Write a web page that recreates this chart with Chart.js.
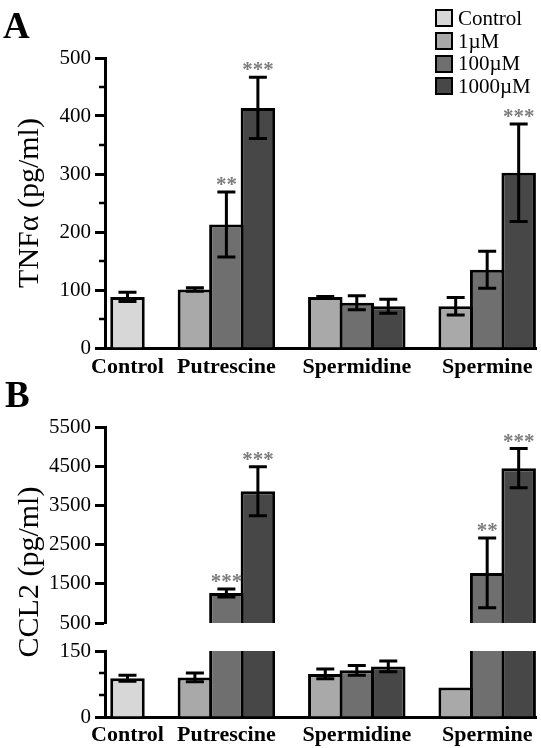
<!DOCTYPE html>
<html><head><meta charset="utf-8">
<script src="https://cdn.jsdelivr.net/npm/chart.js@4.4.0/dist/chart.umd.min.js"></script>
<style>
html,body{margin:0;padding:0;background:#fff;}
#wrap{position:relative;width:541px;height:748px;overflow:hidden;font-family:'Liberation Serif','Times New Roman',serif;color:#000;}
canvas{position:absolute;left:0;}
.letter{position:absolute;font-weight:bold;font-size:37px;line-height:36px;}
.ytitle{position:absolute;font-size:30px;line-height:1;white-space:nowrap;transform:translate(-50%,-50%) rotate(-90deg);}
#legend{position:absolute;left:435px;top:7px;font-size:21px;}
.row{display:flex;align-items:center;height:22.7px;}
.sw{width:18px;height:18px;border:2px solid #000;box-sizing:border-box;margin-right:5px;}
</style></head><body>
<div id="wrap">
<canvas id="cA" width="541" height="380" style="top:0px"></canvas>
<canvas id="cBt" width="541" height="265" style="top:380px"></canvas>
<canvas id="cBb" width="541" height="118" style="top:630px"></canvas>
<div class="letter" style="left:3px;top:8px">A</div>
<div class="letter" style="left:5px;top:377px">B</div>
<div class="ytitle" style="left:28px;top:203px">TNFα (pg/ml)</div>
<div class="ytitle" style="left:28px;top:572px">CCL2 (pg/ml)</div>
<div id="legend"></div>
</div>
<script>
// ---------- data ----------
const groups = ['Control', 'Putrescine', 'Spermidine', 'Spermine'];
const seriesNames = ['Control', '1µM', '100µM', '1000µM'];
const seriesColors = ['#d7d7d7', '#a9a9a9', '#6f6f6f', '#474747'];

// Panel A: TNFα (pg/ml); one entry per group, null = no bar
const tnfControl = [88, null, null, null];
const tnf1uM     = [null, 101, 88, 72];
const tnf100uM   = [null, 213, 78, 135];
const tnf1000uM  = [null, 414, 72, 302];
const tnfErrControl = [8, null, null, null];
const tnfErr1uM     = [null, 3, 1, 15];
const tnfErr100uM   = [null, 56, 12, 32];
const tnfErr1000uM  = [null, 53, 12, 84];
const tnfStarsControl = [null, null, null, null];
const tnfStars1uM     = [null, null, null, null];
const tnfStars100uM   = [null, '**', null, null];
const tnfStars1000uM  = [null, '***', null, '***'];
const tnfTicks = [0, 100, 200, 300, 400, 500];
const tnfMinorTicks = [50, 150, 250, 350, 450];

// Panel B: CCL2 (pg/ml)
const ccl2Control = [88, null, null, null];
const ccl2_1uM    = [null, 90, 98, 67];
const ccl2_100uM  = [null, 1265, 106, 1776];
const ccl2_1000uM = [null, 3860, 115, 4450];
const ccl2ErrControl = [7, null, null, null];
const ccl2Err1uM     = [null, 10, 11, 0];
const ccl2Err100uM   = [null, 100, 11, 890];
const ccl2Err1000uM  = [null, 625, 12, 500];
const ccl2StarsControl = [null, null, null, null];
const ccl2Stars1uM     = [null, null, null, null];
const ccl2Stars100uM   = [null, '***', null, '**'];
const ccl2Stars1000uM  = [null, '***', null, '***'];
const ccl2TopTicks = [500, 1500, 2500, 3500, 4500, 5500];
const ccl2TopMinorTicks = [];
const ccl2BottomTicks = [0, 150];
const ccl2BottomMinorTicks = [50, 100];

// ---------- layout helpers ----------
const GAP = 1.14;     // extra space between groups (in bar pitches)
const X_LEFT = 0.714; // space before first bar
const X_RIGHT = 0.55; // space after last bar
const FONT = "'Liberation Serif', 'Times New Roman', serif";

function layout(valueArrays) {
  const pos = valueArrays.map(() => groups.map(() => null));
  const centers = [];
  let cursor = 0;
  groups.forEach((g, gi) => {
    const start = cursor;
    valueArrays.forEach((arr, si) => {
      if (arr[gi] !== null) { pos[si][gi] = cursor; cursor += 1; }
    });
    centers.push((start + cursor - 1) / 2);
    cursor += GAP;
  });
  return { pos, centers };
}

const errorBarPlugin = {
  id: 'errorBars',
  afterDatasetsDraw(chart, args, opts) {
    const { ctx, chartArea, scales: { y } } = chart;
    ctx.save();
    ctx.beginPath();
    ctx.rect(chartArea.left, chartArea.top - (opts.clip ? 0 : 100), chartArea.right - chartArea.left, chartArea.bottom - chartArea.top + (opts.clip ? 0 : 100));
    ctx.clip();
    ctx.strokeStyle = '#000';
    ctx.lineWidth = 3;
    chart.data.datasets.forEach((ds, di) => {
      const meta = chart.getDatasetMeta(di);
      ds.data.forEach((pt, i) => {
        const el = meta.data[i];
        if (!el || !pt.err) return;
        const top = y.getPixelForValue(pt.y + pt.err);
        const bot = y.getPixelForValue(pt.y - pt.err);
        ctx.beginPath();
        ctx.moveTo(el.x, top); ctx.lineTo(el.x, bot);
        ctx.moveTo(el.x - 9, top); ctx.lineTo(el.x + 9, top);
        ctx.moveTo(el.x - 9, bot); ctx.lineTo(el.x + 9, bot);
        ctx.stroke();
      });
    });
    ctx.restore();
    // significance stars
    ctx.save();
    ctx.fillStyle = '#7c7c7c';
    ctx.font = 'bold 21px ' + FONT;
    ctx.textAlign = 'center';
    ctx.textBaseline = 'alphabetic';
    chart.data.datasets.forEach((ds, di) => {
      const meta = chart.getDatasetMeta(di);
      ds.data.forEach((pt, i) => {
        const el = meta.data[i];
        if (!el || !pt.star) return;
        const v = pt.y + (pt.err || 0);
        if (v > y.max || v < y.min) return;
        ctx.fillText(pt.star, el.x, y.getPixelForValue(v) - 1);
      });
    });
    ctx.restore();
    // minor ticks
    ctx.save();
    ctx.strokeStyle = '#000';
    ctx.lineWidth = 2.5;
    (opts.minor || []).forEach(v => {
      const py = Math.round(y.getPixelForValue(v));
      ctx.beginPath();
      ctx.moveTo(chartArea.left - 6, py); ctx.lineTo(chartArea.left, py);
      ctx.stroke();
    });
    ctx.restore();
  }
};

function makeChart(id, cfg) {
  const L = layout(cfg.values);
  const lastPos = Math.max(...L.pos.flat().filter(v => v !== null));
  const datasets = cfg.values.map((arr, si) => ({
    label: seriesNames[si],
    data: arr.map((v, gi) => v === null ? null :
      { x: L.pos[si][gi], y: v, err: cfg.errors[si][gi], star: cfg.stars[si][gi] }).filter(p => p !== null),
    backgroundColor: seriesColors[si],
    borderColor: '#000',
    borderWidth: 3,
    borderSkipped: 'start',
    grouped: false,
    categoryPercentage: 1,
    barPercentage: 1.095,
    clip: cfg.clip ? 0 : false
  }));
  return new Chart(document.getElementById(id), {
    type: 'bar',
    data: { datasets },
    options: {
      responsive: false,
      animation: false,
      devicePixelRatio: 1,
      layout: { padding: cfg.padding },
      plugins: {
        legend: { display: false },
        tooltip: { enabled: false },
        errorBars: { clip: cfg.clip, minor: cfg.minor }
      },
      scales: {
        x: {
          type: 'linear',
          display: cfg.showX,
          offset: false,
          min: -X_LEFT,
          max: lastPos + X_RIGHT,
          z: 1,
          afterBuildTicks: s => { s.ticks = L.centers.map(v => ({ value: v })); },
          afterFit: s => { s.height = cfg.xHeight; },
          ticks: {
            callback: (v, i) => groups[i],
            autoSkip: false, maxRotation: 0, minRotation: 0,
            padding: cfg.xPad,
            color: '#000',
            font: { family: FONT, size: 22, weight: 'bold' }
          },
          grid: { display: false, offset: false },
          border: { display: true, color: '#000', width: 3 }
        },
        y: {
          min: cfg.yMin,
          max: cfg.yMax,
          afterBuildTicks: s => { s.ticks = cfg.ticks.map(v => ({ value: v })); },
          afterFit: s => { s.width = 105; },
          ticks: { color: '#000', padding: 4, font: { family: FONT, size: 21 }, callback: v => String(v) },
          grid: { display: true, drawOnChartArea: false, drawTicks: true, tickLength: 10, tickWidth: 3, tickColor: '#000' },
          border: { display: true, color: '#000', width: 3 }
        }
      }
    },
    plugins: [errorBarPlugin]
  });
}

// legend
const legend = document.getElementById('legend');
seriesNames.forEach((n, i) => {
  const row = document.createElement('div');
  row.className = 'row';
  const sw = document.createElement('div');
  sw.className = 'sw';
  sw.style.background = seriesColors[i];
  const t = document.createElement('span');
  t.textContent = n;
  row.appendChild(sw); row.appendChild(t);
  legend.appendChild(row);
});

makeChart('cA', {
  values: [tnfControl, tnf1uM, tnf100uM, tnf1000uM],
  errors: [tnfErrControl, tnfErr1uM, tnfErr100uM, tnfErr1000uM],
  stars: [tnfStarsControl, tnfStars1uM, tnfStars100uM, tnfStars1000uM],
  yMin: 0, yMax: 500, ticks: tnfTicks, minor: tnfMinorTicks,
  showX: true, xHeight: 32, xPad: -2, clip: false,
  padding: { top: 58, right: 5, left: 0, bottom: 0 }
});
makeChart('cBt', {
  values: [ccl2Control, ccl2_1uM, ccl2_100uM, ccl2_1000uM],
  errors: [ccl2ErrControl, ccl2Err1uM, ccl2Err100uM, ccl2Err1000uM],
  stars: [ccl2StarsControl, ccl2Stars1uM, ccl2Stars100uM, ccl2Stars1000uM],
  yMin: 500, yMax: 5500, ticks: ccl2TopTicks, minor: ccl2TopMinorTicks,
  showX: false, xHeight: 0, xPad: 0, clip: true,
  padding: { top: 47, right: 5, left: 0, bottom: 22 }
});
makeChart('cBb', {
  values: [ccl2Control, ccl2_1uM, ccl2_100uM, ccl2_1000uM],
  errors: [ccl2ErrControl, ccl2Err1uM, ccl2Err100uM, ccl2Err1000uM],
  stars: [ccl2StarsControl, ccl2Stars1uM, ccl2Stars100uM, ccl2Stars1000uM],
  yMin: 0, yMax: 150, ticks: ccl2BottomTicks, minor: ccl2BottomMinorTicks,
  showX: true, xHeight: 31, xPad: -3, clip: true,
  padding: { top: 21, right: 5, left: 0, bottom: 0 }
});
</script>
</body></html>
